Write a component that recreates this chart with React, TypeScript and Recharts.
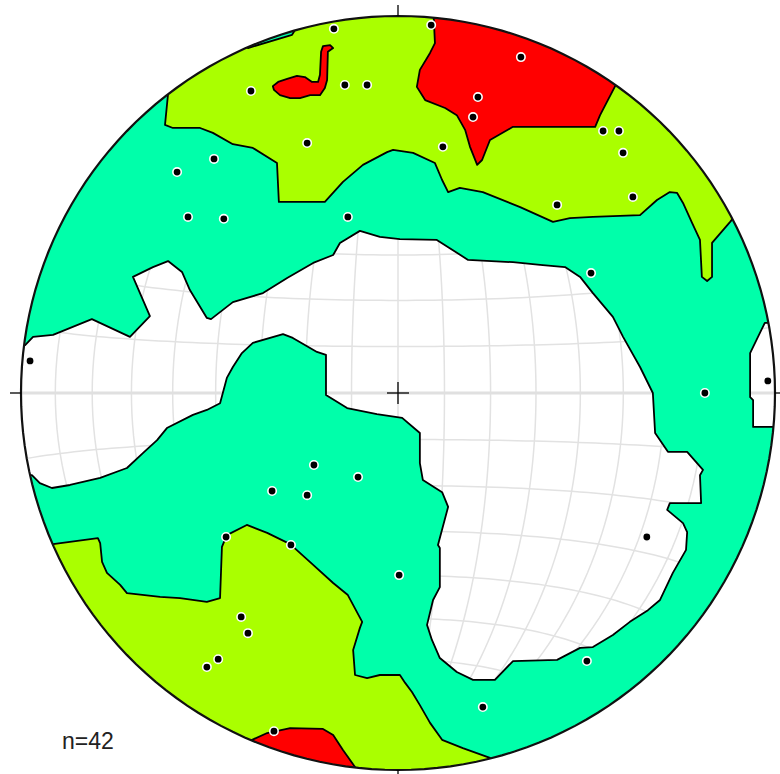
import { ScatterChart, Scatter, XAxis, YAxis } from "recharts";

type Pair = [number, number];
type Pt = { x: number; y: number };

// Net coordinates: primitive circle radius = 100, x east, y north.
// Contour outlines; points beyond the primitive are clipped away.
const whiteWest: Pair[] = [
  [-98.9, 12.7], [-96.8, 14.9], [-91.5, 15.4], [-81.2, 19.6], [-71.1, 14.9],
  [-65.8, 20.4], [-70.3, 30.8], [-65.0, 33.4], [-61.0, 35.0], [-57.3, 32.1],
  [-55.2, 27.3], [-50.7, 19.9], [-49.6, 19.6], [-43.8, 24.1], [-35.8, 26.5],
  [-29.4, 30.5], [-22.5, 34.5], [-17.2, 36.6], [-15.4, 39.8], [-10.1, 43.0],
  [-4.8, 41.4], [0.5, 40.8], [10.3, 40.6], [18.6, 35.3], [30.5, 34.7],
  [37.7, 34.0], [44.3, 33.4], [48.3, 30.8], [51.7, 26.5], [57.0, 20.2],
  [59.7, 14.9], [64.2, 6.9], [67.6, 0], [68.2, -10.6], [71.6, -15.6],
  [76.7, -15.6], [80.9, -20.4], [80.1, -21.8], [80.4, -29.2], [72.1, -29.2],
  [71.4, -31.0], [75.6, -34.5], [76.7, -36.9], [76.4, -41.6], [72.9, -47.7],
  [69.5, -54.9], [66.3, -57.6], [61.5, -60.7], [57.0, -64.2], [51.7, -67.4],
  [48.3, -67.6], [42.2, -70.8], [30.5, -71.1], [25.7, -76.1], [19.9, -76.1],
  [15.6, -74.0], [11.1, -70.3], [9.0, -65.5], [7.7, -61.5], [9.3, -54.9],
  [11.1, -51.5], [11.1, -41.1], [10.6, -40.3], [13.3, -30.2], [11.7, -26.3],
  [6.6, -23.1], [5.8, -18.6], [5.8, -10.6], [1.1, -6.6], [-5.6, -5.6],
  [-13.5, -4.0], [-19.1, -0.5], [-19.1, 10.1], [-21.5, 10.9], [-27.9, 14.6],
  [-30.5, 15.6], [-38.5, 13.3], [-41.4, 10.6], [-43.8, 6.9], [-45.4, 4.0],
  [-47.2, -2.7], [-50.7, -4.5], [-54.4, -5.8], [-61.3, -9.3], [-63.9, -12.5],
  [-67.6, -15.9], [-71.9, -19.9], [-79.0, -22.5], [-87.0, -24.4], [-91.8, -25.2],
  [-95.0, -23.9], [-97.1, -21.8],
];

const whiteEast: Pair[] = [
  [99.5, -9.0], [94.2, -9.0], [94.2, -1.9], [93.4, -1.1], [93.4, 10.6], [97.3, 18.6],
];

const frameSouth: Pair[] = [[-130, -21.8], [-130, -130], [130, -130], [130, -9.0]];
const frameNorth: Pair[] = [[130, 18.6], [130, 130], [-130, 130], [-130, 12.7]];

const yellowNorth: Pair[] = [
  [-61.0, 79.3], [-61.8, 71.1], [-59.7, 70.3], [-52.5, 70.3], [-49.1, 69.0],
  [-43.8, 66.0], [-38.5, 65.0], [-32.1, 61.0], [-31.6, 50.7], [-19.4, 50.7],
  [-14.6, 56.0], [-9.3, 60.5], [-2.9, 63.9], [-1.3, 64.5], [4.0, 63.7],
  [9.8, 61.0], [11.7, 56.5], [13.3, 53.3], [16.4, 54.4], [22.5, 53.3],
  [32.4, 49.3], [41.1, 45.4], [45.6, 46.4], [51.7, 46.7], [64.2, 47.2],
  [68.7, 51.2], [72.1, 53.3], [74.0, 53.1], [75.6, 50.4], [78.0, 45.1],
  [80.1, 40.6], [80.6, 30.8], [82.0, 29.7], [83.3, 30.8], [83.3, 39.8],
  [88.1, 45.4], [88.9, 46.4], [130, 46.4], [130, 130], [-27.1, 130],
  [-27.1, 96.6], [-28.1, 95.0], [-39.8, 91.5], [-52.5, 98.9], [-65.8, 88.3],
];

const yellowSouth: Pair[] = [
  [-91.5, -40.1], [-79.6, -38.5], [-79.0, -39.8], [-78.5, -44.8], [-77.2, -47.7],
  [-73.7, -50.9], [-71.9, -53.1], [-63.1, -54.1], [-57.8, -54.4], [-50.7, -55.4],
  [-47.2, -54.4], [-46.7, -40.8], [-45.4, -37.7], [-40.1, -35.0], [-34.7, -37.1],
  [-28.6, -40.1], [-22.5, -45.6], [-17.2, -50.4], [-13.3, -53.6], [-9.5, -60.7],
  [-10.1, -62.3], [-11.9, -68.2], [-11.4, -74.8], [-8.2, -75.6], [-4.8, -74.8],
  [0.5, -74.8], [1.9, -76.9], [3.7, -79.3], [5.8, -82.8], [8.5, -87.5],
  [11.7, -92.0], [17.2, -94.2], [24.4, -96.8], [30, -120], [-130, -120],
  [-130, -40.1],
];

const redNorth: Pair[] = [
  [9.3, 103], [9.8, 92.8], [8.5, 90.2], [5.8, 85.7], [5.0, 81.2],
  [7.2, 77.7], [12.5, 75.6], [15.6, 73.7], [17.8, 69.8], [19.1, 65.3],
  [21.0, 60.5], [22.3, 61.8], [24.4, 67.1], [30.5, 70.6], [52.3, 70.6],
  [53.6, 73.7], [57.6, 81.4], [75, 100], [9.3, 115],
];

const redSpot: Pair[] = [
  [-33.2, 81.4], [-31.8, 82.5], [-29.4, 83.3], [-26.8, 84.1], [-24.7, 83.8],
  [-22.8, 82.5], [-21.2, 82.5], [-20.7, 84.4], [-20.4, 90.5], [-19.9, 92.0],
  [-18.0, 92.3], [-17.2, 91.5], [-18.6, 90.5], [-18.8, 83.0], [-19.4, 80.9],
  [-20.7, 79.0], [-23.3, 79.0], [-26.0, 78.2], [-28.6, 78.2], [-31.3, 79.0],
  [-32.9, 80.4],
];

const redSouth: Pair[] = [
  [-38.7, -92.0], [-34.7, -90.2], [-28.6, -88.9], [-19.9, -89.1], [-17.2, -90.7],
  [-14.6, -94.7], [-11.4, -99.2], [-11, -120], [-50, -110], [-45, -92],
];

// plotted poles
const poles: Pair[] = [
  [-17.0, 96.6], [8.8, 97.6], [32.6, 89.1], [-39.0, 80.1], [-14.1, 81.7],
  [-8.2, 81.7], [21.2, 78.5], [19.9, 73.2], [-24.1, 66.3], [11.9, 65.3],
  [54.4, 69.5], [58.6, 69.5], [59.7, 63.7], [-48.8, 62.1], [-58.6, 58.6],
  [-55.7, 46.7], [-46.2, 46.2], [-13.3, 46.7], [42.2, 49.9], [62.3, 52.0],
  [51.2, 31.8], [-97.6, 8.5], [98.1, 3.2], [81.4, 0], [-22.3, -19.1],
  [-10.6, -22.3], [-33.4, -26.0], [-24.1, -27.1], [-45.6, -38.2], [-28.4, -40.3],
  [0.3, -48.3], [66.0, -38.2], [-41.6, -59.4], [-39.8, -63.7], [-47.7, -70.6],
  [-50.7, -72.7], [50.1, -71.1], [22.5, -83.3], [-32.9, -89.7],
];

const cardinals: Pair[] = [[0, 100], [100, 0], [0, -100], [-100, 0]];
const centre: Pair[] = [[0, 0]];
const countLabel = "n=42";

const W = 780;
const H = 774;
const R_PX = 377;
const CX = 398;
const CY = 393;
const NET_R = 100;
const xDomain = [(-CX / R_PX) * NET_R, ((W - CX) / R_PX) * NET_R];
const yDomain = [(-(H - CY) / R_PX) * NET_R, (CY / R_PX) * NET_R];

const pts = (list: Pair[]): Pt[] => list.map(([x, y]) => ({ x, y }));

// Schmidt (equal-area, lower hemisphere) net
const rad = Math.PI / 180;
const project = (e: number, n: number, d: number): Pt => {
  const k = NET_R / Math.sqrt(1 + d);
  return { x: e * k, y: n * k };
};
const sweep = Array.from({ length: 91 }, (_, i) => i * 2 * rad);
const greatCircles: Pt[][] = [];
for (let dip = 10; dip <= 90; dip += 10) {
  for (const side of dip === 90 ? [1] : [1, -1]) {
    greatCircles.push(
      sweep.map((p) =>
        project(side * Math.sin(p) * Math.cos(dip * rad), Math.cos(p), Math.sin(p) * Math.sin(dip * rad))
      )
    );
  }
}
const smallCircles: Pt[][] = [];
for (let b = 10; b < 180; b += 10) {
  if (b === 90) continue;
  smallCircles.push(
    sweep.map((p) => project(Math.sin(b * rad) * Math.cos(p), Math.cos(b * rad), Math.sin(b * rad) * Math.sin(p)))
  );
}
const equator = sweep.map((p) => project(Math.cos(p), 0, Math.sin(p)));
const primitive = Array.from({ length: 181 }, (_, i) => project(Math.sin(i * 2 * rad), Math.cos(i * 2 * rad), 0));

const cyanArea = pts([...whiteWest, ...frameSouth, ...whiteEast, ...frameNorth]);

const pathOf = (points: { x: number; y: number }[], close = false) =>
  points.map((p, i) => `${i ? "L" : "M"}${p.x.toFixed(2)},${p.y.toFixed(2)}`).join("") + (close ? "Z" : "");

const Hidden = () => <g />;

const netLine = (stroke: string, width: number) => (props: any) => (
  <path d={pathOf(props.points)} fill="none" stroke={stroke} strokeWidth={width} />
);

const region = (fill: string) => (props: any) => (
  <path
    d={pathOf(props.points, true)}
    fill={fill}
    stroke="#000"
    strokeWidth={1.8}
    strokeLinejoin="round"
    clipPath="url(#primitive-clip)"
  />
);

const clipDef = (props: any) => (
  <defs>
    <clipPath id="primitive-clip">
      <path d={pathOf(props.points, true)} />
    </clipPath>
  </defs>
);

const PoleDot = (p: any) => <circle cx={p.cx} cy={p.cy} r={4.2} fill="#000" stroke="#fff" strokeWidth={1.6} />;

const Tick = (p: any) => {
  const dx = p.payload.x / NET_R;
  const dy = -p.payload.y / NET_R;
  return <line x1={p.cx} y1={p.cy} x2={p.cx + dx * 11} y2={p.cy + dy * 11} stroke="#000" strokeWidth={1.3} />;
};

const Cross = (p: any) => (
  <g stroke="#000" strokeWidth={1.3}>
    <line x1={p.cx - 11} y1={p.cy} x2={p.cx + 11} y2={p.cy} />
    <line x1={p.cx} y1={p.cy - 11} x2={p.cx} y2={p.cy + 11} />
  </g>
);

export default function App() {
  return (
    <div style={{ position: "absolute", left: 0, top: 0, width: W, height: H, background: "#fff" }}>
      <ScatterChart width={W} height={H} margin={{ top: 0, right: 0, bottom: 0, left: 0 }}>
        <XAxis type="number" dataKey="x" domain={xDomain} allowDataOverflow hide />
        <YAxis type="number" dataKey="y" domain={yDomain} allowDataOverflow hide />
        <Scatter data={primitive} line={clipDef} shape={Hidden} isAnimationActive={false} />
        {greatCircles.map((g, i) => (
          <Scatter key={`gc${i}`} data={g} line={netLine("#e2e2e2", 1.5)} shape={Hidden} isAnimationActive={false} />
        ))}
        {smallCircles.map((g, i) => (
          <Scatter key={`sc${i}`} data={g} line={netLine("#e2e2e2", 1.5)} shape={Hidden} isAnimationActive={false} />
        ))}
        <Scatter data={equator} line={netLine("#e0e0e0", 3)} shape={Hidden} isAnimationActive={false} />
        <Scatter data={cyanArea} line={region("#00FFAA")} shape={Hidden} isAnimationActive={false} />
        <Scatter data={pts(yellowNorth)} line={region("#AAFF00")} shape={Hidden} isAnimationActive={false} />
        <Scatter data={pts(yellowSouth)} line={region("#AAFF00")} shape={Hidden} isAnimationActive={false} />
        <Scatter data={pts(redNorth)} line={region("#FF0000")} shape={Hidden} isAnimationActive={false} />
        <Scatter data={pts(redSpot)} line={region("#FF0000")} shape={Hidden} isAnimationActive={false} />
        <Scatter data={pts(redSouth)} line={region("#FF0000")} shape={Hidden} isAnimationActive={false} />
        <Scatter data={primitive} line={netLine("#111", 2.2)} shape={Hidden} isAnimationActive={false} />
        <Scatter data={pts(cardinals)} shape={Tick} isAnimationActive={false} />
        <Scatter data={pts(centre)} shape={Cross} isAnimationActive={false} />
        <Scatter data={pts(poles)} shape={PoleDot} isAnimationActive={false} />
      </ScatterChart>
      <div
        style={{
          position: "absolute",
          left: 62,
          top: 730,
          fontFamily: "'Liberation Sans', Arial, sans-serif",
          fontSize: 23,
          lineHeight: "23px",
          color: "#222",
        }}
      >
        {countLabel}
      </div>
    </div>
  );
}
